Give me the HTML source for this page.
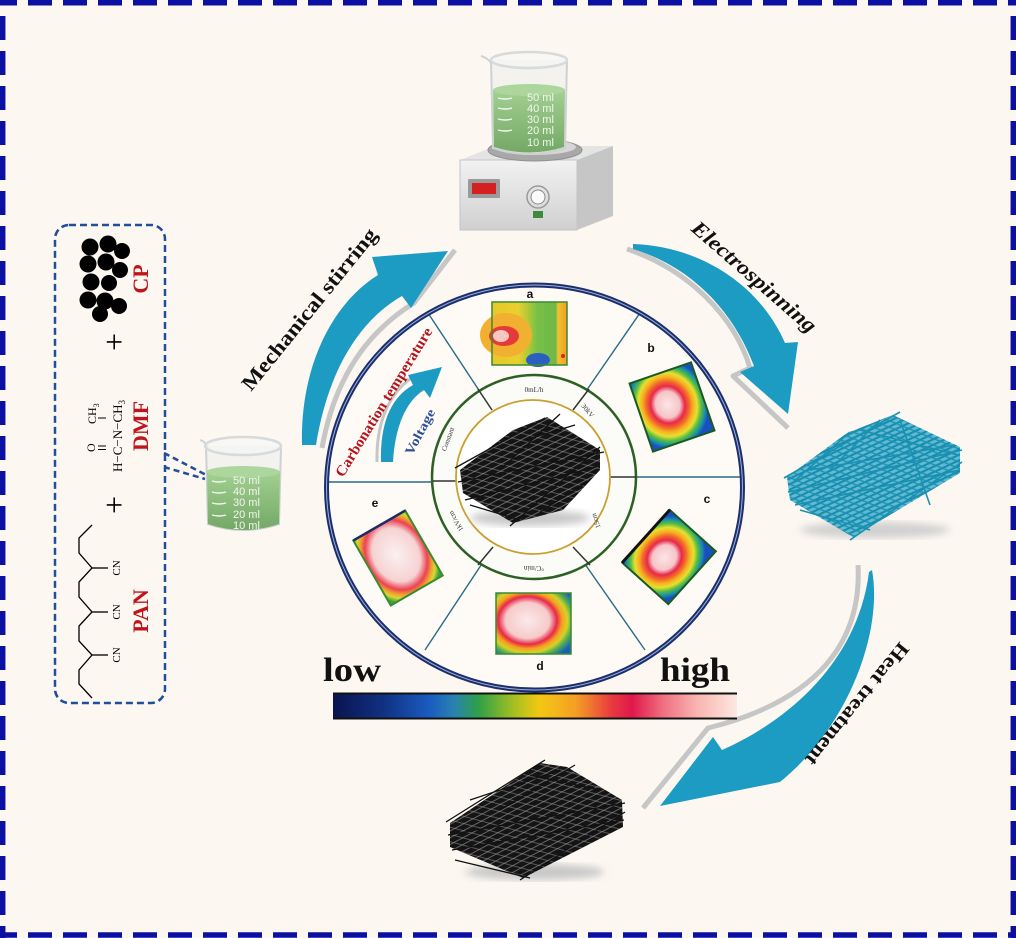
<!DOCTYPE html>
<html><head><meta charset="utf-8"><style>
html,body{margin:0;padding:0;background:#fdf7f1;}
svg{display:block;}
.serif{font-family:"Liberation Serif",serif;}
.sans{font-family:"Liberation Sans",sans-serif;}
</style></head><body>
<svg width="1016" height="938" viewBox="0 0 1016 938" xmlns="http://www.w3.org/2000/svg">
<defs>
<linearGradient id="cbar" x1="0" x2="1" y1="0" y2="0">
<stop offset="0" stop-color="#0a1450"/><stop offset=".12" stop-color="#10307f"/><stop offset=".24" stop-color="#1a5cc0"/><stop offset=".30" stop-color="#2a82b0"/><stop offset=".36" stop-color="#2ea048"/><stop offset=".45" stop-color="#a8c020"/><stop offset=".51" stop-color="#f2c812"/><stop offset=".60" stop-color="#f5a024"/><stop offset=".69" stop-color="#e83a40"/><stop offset=".74" stop-color="#e0184a"/><stop offset=".82" stop-color="#f07282"/><stop offset=".90" stop-color="#f8b4b0"/><stop offset="1" stop-color="#fde8e2"/>
</linearGradient>
<radialGradient id="thB" cx=".45" cy=".45" r=".62">
<stop offset="0" stop-color="#fbe6e6"/><stop offset=".3" stop-color="#f6c4c8"/><stop offset=".42" stop-color="#e8284a"/><stop offset=".53" stop-color="#f26a2a"/><stop offset=".62" stop-color="#f6b020"/><stop offset=".72" stop-color="#e6e030"/><stop offset=".82" stop-color="#58bc40"/><stop offset=".92" stop-color="#1890a8"/><stop offset="1" stop-color="#1a4fc0"/>
</radialGradient>
<radialGradient id="thD" cx=".42" cy=".45" r=".7">
<stop offset="0" stop-color="#fde9e9"/><stop offset=".42" stop-color="#f6caca"/><stop offset=".56" stop-color="#e82848"/><stop offset=".66" stop-color="#f5a020"/><stop offset=".76" stop-color="#d8d028"/><stop offset=".86" stop-color="#50b050"/><stop offset="1" stop-color="#1a60b8"/>
</radialGradient>
<radialGradient id="thE" cx=".5" cy=".45" r=".68">
<stop offset="0" stop-color="#fbf0f0"/><stop offset=".55" stop-color="#f6d2d2"/><stop offset=".72" stop-color="#ec4252"/><stop offset=".82" stop-color="#f0a030"/><stop offset=".9" stop-color="#d8d830"/><stop offset="1" stop-color="#40a040"/>
</radialGradient>
<linearGradient id="thA" x1="0" x2="1" y1="0" y2="0">
<stop offset="0" stop-color="#e8c828"/><stop offset=".35" stop-color="#e8d030"/><stop offset=".5" stop-color="#a8c838"/><stop offset=".6" stop-color="#78c048"/><stop offset=".85" stop-color="#70b848"/><stop offset=".88" stop-color="#f0c030"/><stop offset="1" stop-color="#f0a020"/>
</linearGradient>
<linearGradient id="liq" x1="0" x2="0" y1="0" y2="1">
<stop offset="0" stop-color="#a2d092"/><stop offset="1" stop-color="#74a866"/>
</linearGradient>
<linearGradient id="front" x1="0" x2="0" y1="0" y2="1">
<stop offset="0" stop-color="#f2f2f2"/><stop offset="1" stop-color="#d0d0d0"/>
</linearGradient>
<pattern id="pk" width="6" height="6" patternUnits="userSpaceOnUse" patternTransform="rotate(-28)">
<rect width="6" height="6" fill="#141414"/><line x1="0" y1="3" x2="6" y2="3" stroke="#8a8a8a" stroke-width=".7"/>
</pattern>
<pattern id="pk2" width="7" height="7" patternUnits="userSpaceOnUse" patternTransform="rotate(15)">
<line x1="0" y1="3.5" x2="7" y2="3.5" stroke="#9a9a9a" stroke-width=".5"/>
</pattern>
<pattern id="pt1" width="5" height="5" patternUnits="userSpaceOnUse" patternTransform="rotate(-25)">
<rect width="5" height="5" fill="#62bad2"/><line x1="0" y1="2.5" x2="5" y2="2.5" stroke="#178cae" stroke-width="2"/>
</pattern>
<pattern id="pt2" width="6" height="6" patternUnits="userSpaceOnUse" patternTransform="rotate(22)">
<line x1="0" y1="3" x2="6" y2="3" stroke="#1a92b4" stroke-width="1.4"/>
</pattern>
<filter id="blur"><feGaussianBlur stdDeviation="4"/></filter>
</defs>

<rect width="1016" height="938" fill="#fdf7f1"/>

<!-- outer dashed border -->
<g stroke="#0b10a2" stroke-width="5.5" fill="none">
<line x1="0" y1="2.7" x2="1016" y2="2.7" stroke-dasharray="24 11" stroke-dashoffset="7"/>
<line x1="0" y1="935" x2="1016" y2="935" stroke-dasharray="24 11" stroke-dashoffset="7"/>
<line x1="2.7" y1="0" x2="2.7" y2="938" stroke-dasharray="24 11" stroke-dashoffset="19"/>
<line x1="1013.3" y1="0" x2="1013.3" y2="938" stroke-dasharray="24 11" stroke-dashoffset="19"/>
</g>

<!-- left dashed box -->
<rect x="55" y="225" width="110" height="478" rx="14" fill="none" stroke="#1f4f9c" stroke-width="2.5" stroke-dasharray="7 4"/>
<g stroke="#1f4f9c" stroke-width="2.5" stroke-dasharray="6 4" fill="none">
<line x1="164" y1="453" x2="210" y2="477"/>
<line x1="164" y1="467" x2="205" y2="479"/>
</g>

<!-- CP particles -->
<g fill="#000">
<circle cx="90" cy="247" r="8.5"/><circle cx="108" cy="244" r="8.5"/><circle cx="122" cy="251" r="8"/>
<circle cx="88" cy="264" r="8.5"/><circle cx="106" cy="262" r="8.5"/><circle cx="120" cy="270" r="8"/>
<circle cx="91" cy="282" r="8.5"/><circle cx="109" cy="283" r="8"/>
<circle cx="88" cy="300" r="8.5"/><circle cx="105" cy="301" r="8.5"/><circle cx="119" cy="306" r="8"/>
<circle cx="100" cy="314" r="8"/>
</g>
<text class="serif" transform="translate(148,279) rotate(-90)" text-anchor="middle" font-size="22" font-weight="bold" fill="#c0141c">CP</text>
<text class="serif" transform="translate(125,342) rotate(-90)" text-anchor="middle" font-size="32" fill="#000">+</text>

<!-- DMF -->
<text class="serif" transform="translate(122,472) rotate(-90)" font-size="13" fill="#000">H−C−N−CH<tspan font-size="9" dy="3">3</tspan></text>
<text class="serif" transform="translate(95,452) rotate(-90)" font-size="12" fill="#000">O</text>
<line x1="98" y1="446" x2="106" y2="446" stroke="#000" stroke-width="1"/>
<line x1="98" y1="449.5" x2="106" y2="449.5" stroke="#000" stroke-width="1"/>
<line x1="98" y1="418" x2="106" y2="418" stroke="#000" stroke-width="1"/>
<text class="serif" transform="translate(96,424) rotate(-90)" font-size="12" fill="#000">CH<tspan font-size="8" dy="3">3</tspan></text>
<text class="serif" transform="translate(148,426) rotate(-90)" text-anchor="middle" font-size="22" font-weight="bold" fill="#c0141c">DMF</text>
<text class="serif" transform="translate(125,505) rotate(-90)" text-anchor="middle" font-size="32" fill="#000">+</text>

<!-- PAN -->
<polyline points="92,525 79,538 79,553 92,568 79,582 79,597 92,612 79,626 79,641 92,655 79,670 79,684 92,698" fill="none" stroke="#000" stroke-width="1.3"/>
<g stroke="#000" stroke-width="1.3"><line x1="92" y1="568" x2="108" y2="568"/><line x1="92" y1="612" x2="108" y2="612"/><line x1="92" y1="655" x2="108" y2="655"/></g>
<g class="serif" font-size="11" fill="#000" text-anchor="middle">
<text transform="translate(120,568) rotate(-90)">CN</text>
<text transform="translate(120,612) rotate(-90)">CN</text>
<text transform="translate(120,655) rotate(-90)">CN</text>
</g>
<text class="serif" transform="translate(148,611) rotate(-90)" text-anchor="middle" font-size="22" font-weight="bold" fill="#c0141c">PAN</text>

<!-- left beaker -->
<path d="M200,440 Q205,441 208,448" fill="none" stroke="#d0d4d4" stroke-width="2"/>
<path d="M206,446 L208,524 Q243,536 279,524 L281,446" fill="rgba(236,238,238,0.6)" stroke="#cdd1d1" stroke-width="2"/>
<path d="M207,472 L208,524 Q243,536 279,524 L280,472 Z" fill="url(#liq)"/>
<ellipse cx="243" cy="472" rx="37" ry="6" fill="#acd69c"/>
<ellipse cx="243" cy="446" rx="38" ry="9" fill="rgba(245,247,247,0.5)" stroke="#d6dada" stroke-width="2.5"/>
<g stroke="#f4f8f0" stroke-width="1.4" fill="none">
<path d="M212,481 q7,2 14,0"/><path d="M212,492 q7,2 14,0"/><path d="M212,503 q7,2 14,0"/><path d="M212,515 q7,2 14,0"/>
</g>
<g class="sans" font-size="11" fill="#f2f6ee">
<text x="233" y="484">50 ml</text><text x="233" y="495">40 ml</text><text x="233" y="506">30 ml</text><text x="233" y="518">20 ml</text><text x="233" y="529">10 ml</text>
</g>

<!-- hotplate -->
<polygon points="460,160 495,146 613,146 577,160" fill="#e4e4e4"/>
<polygon points="460,160 577,160 577,230 460,230" fill="url(#front)" stroke="#c4c4c4" stroke-width="1"/>
<polygon points="577,160 613,146 613,216 577,230" fill="#c6c6c6"/>
<ellipse cx="535" cy="150" rx="47" ry="11" fill="#a8a8a8" stroke="#909090"/>
<ellipse cx="535" cy="147" rx="41" ry="8" fill="#d6d6d6"/>
<rect x="468" y="179" width="32" height="19" fill="#9a9a9a" rx="1"/>
<rect x="472" y="183" width="24" height="11" fill="#d42020"/>
<circle cx="538" cy="197" r="11" fill="none" stroke="#9a9a9a" stroke-width="1.5"/>
<circle cx="538" cy="197" r="7" fill="#fafafa" stroke="#8a8a8a"/>
<rect x="533" y="211" width="10" height="7" fill="#3c8c3c"/>

<!-- top beaker -->
<path d="M481,56 Q488,58 492,64" fill="none" stroke="#d0d4d4" stroke-width="2"/>
<path d="M491,60 L493,148 Q529,160 565,148 L567,60" fill="rgba(236,238,238,0.6)" stroke="#cdd1d1" stroke-width="2"/>
<path d="M493,90 L494,147 Q529,158 564,147 L565,90 Z" fill="url(#liq)"/>
<ellipse cx="529" cy="90" rx="36" ry="6" fill="#acd69c"/>
<ellipse cx="529" cy="60" rx="38" ry="8" fill="rgba(245,247,247,0.5)" stroke="#d6dada" stroke-width="2.5"/>
<g stroke="#f4f8f0" stroke-width="1.4" fill="none">
<path d="M498,98 q7,2 14,0"/><path d="M498,108 q7,2 14,0"/><path d="M498,119 q7,2 14,0"/><path d="M498,130 q7,2 14,0"/>
</g>
<g class="sans" font-size="11" fill="#f2f6ee">
<text x="527" y="101">50 ml</text><text x="527" y="112">40 ml</text><text x="527" y="123">30 ml</text><text x="527" y="134">20 ml</text><text x="527" y="146">10 ml</text>
</g>

<!-- big arrows -->
<path d="M322,448 C335,375 370,330 414,303 L455,250" fill="none" stroke="#c6c6c6" stroke-width="5" stroke-linejoin="round"/>
<path d="M302,445 C300,370 330,305 378,275 L372,257 L448,251 L411,308 L402,296 C360,320 328,370 316,445 Z" fill="#1c9cc2"/>

<path d="M627,249 C690,270 735,318 750,368 L733,376 L788,428" fill="none" stroke="#c6c6c6" stroke-width="5" stroke-linejoin="round"/>
<path d="M633,244 C700,246 760,285 785,343 L798,342 L788,414 L740,372 L754,366 C735,315 695,268 633,249 Z" fill="#1c9cc2"/>

<path d="M858,565 C862,640 820,700 708,728 L643,808" fill="none" stroke="#c6c6c6" stroke-width="5" stroke-linejoin="round"/>
<path d="M872,570 C883,630 850,725 780,782 L660,806 L713,737 L722,750 C790,720 858,660 869,572 Z" fill="#1c9cc2"/>

<!-- arrow labels -->
<text class="serif" transform="translate(251,392) rotate(-51)" font-size="21" font-weight="bold" fill="#111" textLength="202" lengthAdjust="spacingAndGlyphs">Mechanical stirring</text>
<text class="serif" transform="translate(690,230) rotate(41)" font-size="21" font-weight="bold" font-style="italic" fill="#111" textLength="158" lengthAdjust="spacingAndGlyphs">Electrospinning</text>
<text class="serif" transform="translate(900,641) rotate(129)" font-size="20" font-weight="bold" fill="#111" textLength="152" lengthAdjust="spacingAndGlyphs">Heat treatment</text>

<!-- main circle -->
<ellipse cx="534.5" cy="487.5" rx="208" ry="202.5" fill="#fefaf5"/>
<g stroke="#2a6a8a" stroke-width="1.4">
<line x1="428" y1="313" x2="492" y2="410"/>
<line x1="640" y1="313" x2="573" y2="410"/>
<line x1="425" y1="650" x2="493" y2="547"/>
<line x1="645" y1="650" x2="573" y2="547"/>
<line x1="327" y1="482" x2="457" y2="482"/>
<line x1="609" y1="477" x2="742" y2="477"/>
</g>
<ellipse cx="534.5" cy="487.5" rx="208" ry="202.5" fill="none" stroke="#1b2f6e" stroke-width="5"/>
<ellipse cx="534.5" cy="487.5" rx="208" ry="202.5" fill="none" stroke="#9fb2d6" stroke-width="1"/>

<!-- inner rings -->
<circle cx="534" cy="477" r="102" fill="#fbfbf8" stroke="#2d6024" stroke-width="2.5"/>
<g stroke="#333" stroke-width="1.5">
<line x1="478" y1="389" x2="492" y2="410"/>
<line x1="589" y1="389" x2="573" y2="410"/>
<line x1="478" y1="565" x2="493" y2="547"/>
<line x1="590" y1="565" x2="573" y2="547"/>
<line x1="433" y1="481" x2="457" y2="481"/>
<line x1="609" y1="477" x2="636" y2="477"/>
</g>
<circle cx="533" cy="477" r="77" fill="#ffffff" stroke="#c9a030" stroke-width="1.8"/>
<g class="serif" font-size="7" fill="#333" text-anchor="middle">
<text x="534" y="392">0mL/h</text>
<text transform="translate(586,412) rotate(50)">30kV</text>
<text transform="translate(450,440) rotate(-70)">Constant</text>
<text transform="translate(598,520) rotate(-110)">15cm</text>
<text transform="translate(534,566) rotate(180)">°C/min</text>
<text transform="translate(458,520) rotate(-120)">1kV/cm</text>
</g>

<!-- central black mat -->
<ellipse cx="530" cy="518" rx="60" ry="8" fill="#c8c8c8" filter="url(#blur)"/>
<polygon points="460,470 513,430 547,417 600,450 600,470 563,510 513,523 463,493" fill="url(#pk)"/>
<polygon points="460,470 513,430 547,417 600,450 600,470 563,510 513,523 463,493" fill="url(#pk2)"/>
<g stroke="#111" stroke-width="1.3">
<line x1="455" y1="468" x2="545" y2="418"/><line x1="458" y1="482" x2="604" y2="452"/>
<line x1="465" y1="500" x2="600" y2="466"/><line x1="500" y1="470" x2="560" y2="414"/>
<line x1="510" y1="526" x2="600" y2="447"/><line x1="470" y1="505" x2="520" y2="520"/>
<line x1="525" y1="440" x2="575" y2="425"/><line x1="540" y1="512" x2="590" y2="480"/>
</g>

<!-- thermal images -->
<g>
<rect x="492" y="302" width="75" height="63" fill="url(#thA)"/>
<ellipse cx="506" cy="335" rx="26" ry="22" fill="#f2b030"/>
<ellipse cx="504" cy="336" rx="15" ry="10" fill="#e63a3a"/>
<ellipse cx="501" cy="336" rx="8" ry="6" fill="#f6c8c0"/>
<ellipse cx="538" cy="360" rx="12" ry="7" fill="#2a60c0"/>
<circle cx="563" cy="356" r="2" fill="#e02020"/>
<rect x="492" y="302" width="75" height="63" fill="none" stroke="#3a8a30" stroke-width="1.5"/>
</g>
<g transform="translate(672,407) rotate(-19)">
<rect x="-32.5" y="-36" width="65" height="72" fill="url(#thB)" stroke="#1a5a20" stroke-width="2"/>
</g>
<g transform="translate(669,557) rotate(-48)">
<rect x="-35.5" y="-31" width="71" height="62" fill="url(#thB)" stroke="#1a5a20" stroke-width="2"/>
<line x1="-35.5" y1="-31" x2="35.5" y2="-31" stroke="#111" stroke-width="3"/>
</g>
<rect x="496" y="593" width="75" height="61" fill="url(#thD)" stroke="#3a8a30" stroke-width="1.5"/>
<g transform="translate(398,558) rotate(-30)">
<rect x="-30" y="-37.5" width="60" height="75" fill="url(#thE)" stroke="#3a8a30" stroke-width="2"/>
<line x1="-30" y1="-37.5" x2="30" y2="-37.5" stroke="#1a2a6a" stroke-width="2.5"/>
</g>
<g class="sans" font-size="12" font-weight="bold" fill="#111" text-anchor="middle">
<text x="530" y="298">a</text><text x="651" y="352">b</text><text x="707" y="503">c</text><text x="540" y="670">d</text><text x="375" y="507">e</text>
</g>

<!-- small voltage arrow -->
<path d="M377,462 C376,418 392,388 418,374" fill="none" stroke="#c6c6c6" stroke-width="3"/>
<path d="M381,462 C380,425 390,398 413,385 L408,375 L442,367 L430,398 L424,390 C405,402 395,428 393,462 Z" fill="#1c9cc2"/>
<text class="serif" transform="translate(343,478) rotate(-58.5)" font-size="15" font-weight="bold" fill="#b5121b" textLength="172" lengthAdjust="spacingAndGlyphs">Carbonation temperature</text>
<text class="serif" transform="translate(412,456) rotate(-62)" font-size="13" font-weight="bold" fill="#2d4f9a" textLength="50" lengthAdjust="spacingAndGlyphs">Voltage</text>

<!-- colour bar -->
<rect x="333" y="693" width="404" height="26" fill="url(#cbar)"/>
<line x1="333" y1="693.5" x2="737" y2="693.5" stroke="#111" stroke-width="2"/>
<line x1="333" y1="718.5" x2="737" y2="718.5" stroke="#111" stroke-width="2"/>
<text class="serif" x="323" y="681" font-size="34" font-weight="bold" fill="#111" textLength="58" lengthAdjust="spacingAndGlyphs">low</text>
<text class="serif" x="660" y="681" font-size="34" font-weight="bold" fill="#111" textLength="70" lengthAdjust="spacingAndGlyphs">high</text>

<!-- teal fiber mat -->
<ellipse cx="875" cy="530" rx="75" ry="8" fill="#d0d0d0" filter="url(#blur)"/>
<polygon points="787,477 847,433 893,415 960,447 960,473 853,537 790,500" fill="url(#pt1)"/>
<polygon points="787,477 847,433 893,415 960,447 960,473 853,537 790,500" fill="url(#pt2)"/>
<g stroke="#1a90b2" stroke-width="1.6">
<line x1="784" y1="478" x2="900" y2="412"/><line x1="788" y1="492" x2="962" y2="450"/>
<line x1="795" y1="505" x2="960" y2="470"/><line x1="830" y1="470" x2="880" y2="420"/>
<line x1="850" y1="540" x2="962" y2="462"/><line x1="810" y1="470" x2="955" y2="445"/>
<line x1="860" y1="430" x2="958" y2="455"/><line x1="800" y1="510" x2="870" y2="530"/>
<line x1="790" y1="485" x2="850" y2="432"/><line x1="900" y1="420" x2="930" y2="505"/>
</g>

<!-- black fiber mat bottom -->
<ellipse cx="535" cy="872" rx="70" ry="8" fill="#c8c8c8" filter="url(#blur)"/>
<polygon points="450,823 540,763 567,767 622,800 623,827 523,878 450,847" fill="url(#pk)"/>
<polygon points="450,823 540,763 567,767 622,800 623,827 523,878 450,847" fill="url(#pk2)"/>
<g stroke="#111" stroke-width="1.3">
<line x1="446" y1="822" x2="545" y2="760"/><line x1="448" y1="835" x2="625" y2="803"/>
<line x1="452" y1="850" x2="624" y2="820"/><line x1="500" y1="810" x2="575" y2="765"/>
<line x1="520" y1="880" x2="625" y2="812"/><line x1="455" y1="860" x2="530" y2="878"/>
<line x1="530" y1="775" x2="600" y2="790"/><line x1="470" y1="800" x2="560" y2="770"/>
</g>
</svg>
</body></html>
